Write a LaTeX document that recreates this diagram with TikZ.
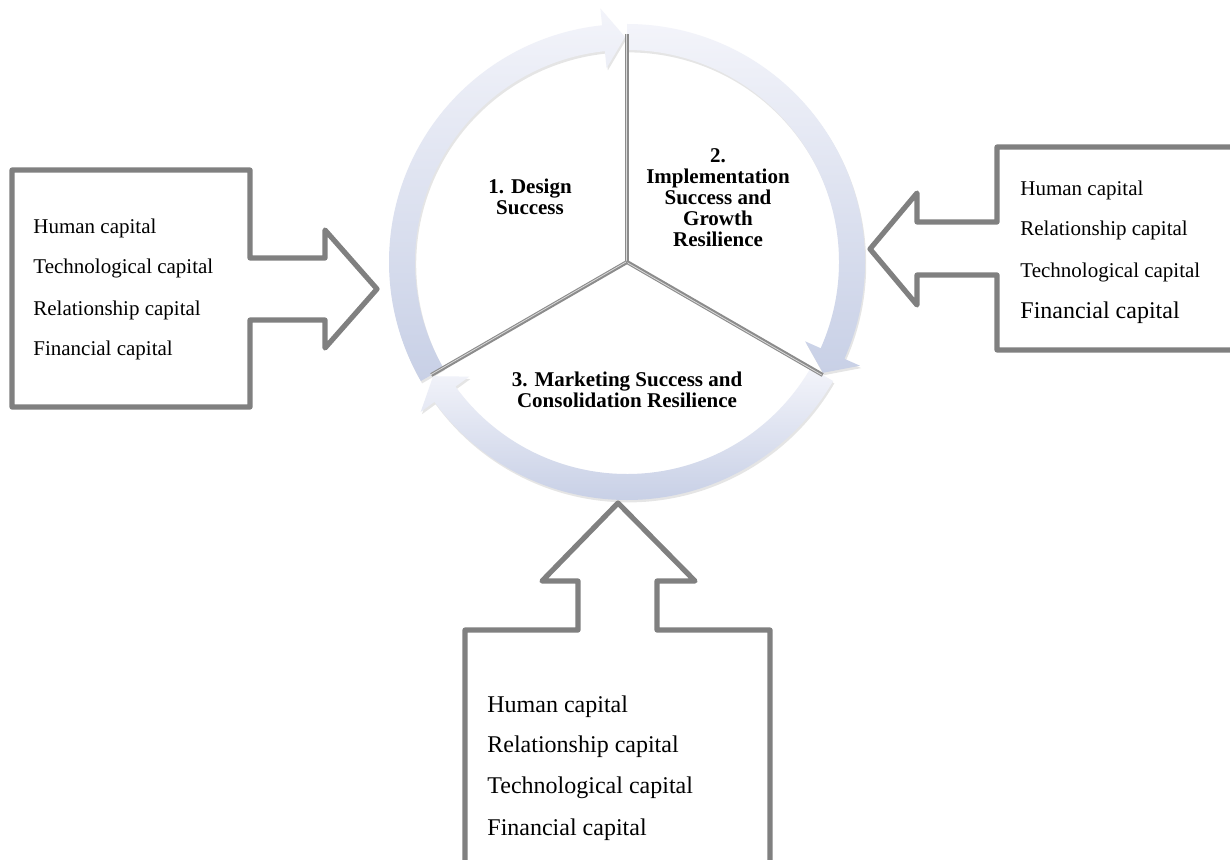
\documentclass[tikz,border=0pt]{standalone}
\usepackage{fontspec}
\setmainfont{Liberation Serif}
\usetikzlibrary{shadows}
\definecolor{ringlight}{RGB}{243,244,250}
\definecolor{ringdark}{RGB}{200,208,230}
\definecolor{callgray}{RGB}{128,128,128}
\definecolor{divgray}{RGB}{140,140,140}
\tikzset{
 callout/.style={draw=callgray, line width=2.6pt, line join=round},
 ringseg/.style={top color=ringlight, bottom color=ringdark, draw=none,
   drop shadow={shadow xshift=0.6pt, shadow yshift=-1.2pt, opacity=0.2}},
 divline/.style={draw=divgray, line width=2pt},
 divhi/.style={draw=gray!30, line width=0.4pt},
 listtext/.style={anchor=west, inner sep=0pt, font=\fontsize{10.5}{12}\selectfont},
 bigtext/.style={anchor=west, inner sep=0pt, font=\fontsize{12}{14}\selectfont},
 phaselabel/.style={align=center, inner sep=0pt, font=\bfseries\fontsize{10.5}{10.5}\selectfont},
}
\newcommand{\ringpiece}[1]{%
 \pgfmathsetmacro\segB{#1-114}%
 \pgfmathsetmacro\segT{#1-119.5}%
 \path[ringseg] (#1:238) arc[start angle=#1, end angle=\segB, radius=238]
   -- (\segB:255) -- (\segT:225) -- (\segB:195) -- (\segB:212)
   arc[start angle=\segB, end angle=#1, radius=212] -- cycle;
}
\begin{document}
\begin{tikzpicture}[x=0.5pt,y=0.5pt]
\clip (0,0) rectangle (1230,859);
\fill[white] (0,0) rectangle (1230,859);

% left callout
\draw[callout] (12,689) -- (250,689) -- (250,601) -- (325,601) -- (325,629)
  -- (377,570) -- (325,511) -- (325,539) -- (250,539) -- (250,452) -- (12,452) -- cycle;
% right callout
\draw[callout] (1245,712) -- (997,712) -- (997,637) -- (917,637) -- (917,666)
  -- (870,610) -- (917,554) -- (917,584) -- (997,584) -- (997,509) -- (1245,509);
% bottom callout
\draw[callout] (465,-10) -- (465,229) -- (578,229) -- (578,278) -- (542,278)
  -- (618,356) -- (695,278) -- (657,278) -- (657,229) -- (770,229) -- (770,-10);

% ring
\coordinate (hub) at (627,597);
\begin{scope}[shift={(hub)}]
 \ringpiece{210}
 \ringpiece{90}
 \ringpiece{-30}
 \coordinate (dtop) at (90:228);
 \coordinate (dright) at (-30:226);
 \coordinate (dleft) at (210:226);
\end{scope}
\foreach \e in {dtop,dright,dleft}{
 \draw[divline] (hub) -- (\e);
 \draw[divhi] ([xshift=-0.5pt]hub) -- ([xshift=-0.5pt]\e);
}

% phase labels
\node[phaselabel] (p1) at (530,662) {1. Design\\Success};
\node[phaselabel] (p2) at (718,661) {2.\\Implementation\\Success and\\Growth\\Resilience};
\node[phaselabel] (p3) at (627,469) {3. Marketing Success and\\Consolidation Resilience};

% left list
\node[listtext] (l1) at (33,631) {Human capital};
\node[listtext] (l2) at (33,591) {Technological capital};
\node[listtext] (l3) at (33,549) {Relationship capital};
\node[listtext] (l4) at (33,509) {Financial capital};
% right list
\node[listtext] (r1) at (1020,669) {Human capital};
\node[listtext] (r2) at (1020,629) {Relationship capital};
\node[listtext] (r3) at (1020,587) {Technological capital};
\node[bigtext] (r4) at (1020,546) {Financial capital};
% bottom list
\node[bigtext] (b1) at (487,152) {Human capital};
\node[bigtext] (b2) at (487,112) {Relationship capital};
\node[bigtext] (b3) at (487,71) {Technological capital};
\node[bigtext] (b4) at (487,29) {Financial capital};
\end{tikzpicture}
\end{document}
